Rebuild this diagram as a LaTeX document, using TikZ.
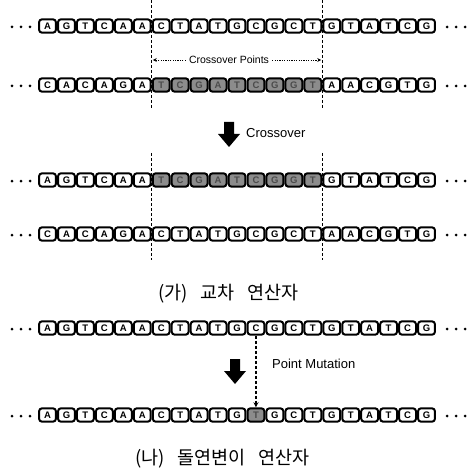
\documentclass[tikz,border=0pt]{standalone}
\usepackage{fontspec}
\setmainfont{Liberation Sans}
\newfontfamily\krfont{Noto Sans CJK KR}
\usetikzlibrary{arrows.meta}
\tikzset{
  base/.style={draw=black, line width=2pt, rounded corners=3pt, minimum width=16.9pt, minimum height=13.4pt, inner sep=0pt, font=\bfseries\fontsize{9.5}{9.5}\selectfont, fill=white},
  shd/.style={base, fill=black!45, text=black!70},
  seqdot/.style={circle, fill=black, inner sep=0pt, minimum size=3pt},
  cutline/.style={line width=1.2pt, dash pattern=on 3pt off 2pt},
  lbl/.style={font=\fontsize{13}{13}\selectfont, anchor=west, inner sep=0pt},
  smalllbl/.style={font=\fontsize{10.5}{10.5}\selectfont, inner sep=0pt},
  captxt/.style={font=\krfont\fontsize{18.5}{18.5}\selectfont, anchor=west, inner sep=0pt},
  pointer/.style={line width=0.8pt, dash pattern=on 1.2pt off 1.2pt, -{Stealth[length=4pt,width=4pt]}},
  mutline/.style={line width=1.2pt, dash pattern=on 3pt off 2pt, -{Stealth[length=5pt,width=5pt]}}
}
\newcommand\dnarow[3]{%
  \foreach [count=\k from 0] \ch/\st in {#3} {
    \node[\st] (#2\k) at ({47.5+18.95*\k},#1) {\ch};
  }
  \foreach \dx [count=\j] in {12,21,30} {\node[seqdot] (#2L\j) at (\dx,#1+1) {};}
  \foreach \dx [count=\j] in {447,456,465} {\node[seqdot] (#2R\j) at (\dx,#1+1) {};}
}
\begin{document}
\begin{tikzpicture}[x=1pt,y=-1pt]
\useasboundingbox (0,0) rectangle (469,473);
% crossover cut lines (drawn first, boxes on top)
\coordinate (ta) at (151.7,0);   \coordinate (ma) at (151.7,108);
\coordinate (na) at (151.7,153); \coordinate (ba) at (151.7,260);
\coordinate (tb) at (322.3,0);   \coordinate (mb) at (322.3,108);
\coordinate (nb) at (322.3,153); \coordinate (bb) at (322.3,260);
\draw[cutline] (ta) -- (ma);
\draw[cutline] (na) -- (ba);
\draw[cutline] (tb) -- (mb);
\draw[cutline] (nb) -- (bb);
% rows
\dnarow{26}{a}{A/base,G/base,T/base,C/base,A/base,A/base,C/base,T/base,A/base,T/base,G/base,C/base,G/base,C/base,T/base,G/base,T/base,A/base,T/base,C/base,G/base}
\dnarow{85}{b}{C/base,A/base,C/base,A/base,G/base,A/base,T/shd,C/shd,G/shd,A/shd,T/shd,C/shd,G/shd,G/shd,T/shd,A/base,A/base,C/base,G/base,T/base,G/base}
\dnarow{180}{c}{A/base,G/base,T/base,C/base,A/base,A/base,T/shd,C/shd,G/shd,A/shd,T/shd,C/shd,G/shd,G/shd,T/shd,G/base,T/base,A/base,T/base,C/base,G/base}
\dnarow{234}{d}{C/base,A/base,C/base,A/base,G/base,A/base,C/base,T/base,A/base,T/base,G/base,C/base,G/base,C/base,T/base,A/base,A/base,C/base,G/base,T/base,G/base}
\dnarow{328}{e}{A/base,G/base,T/base,C/base,A/base,A/base,C/base,T/base,A/base,T/base,G/base,C/base,G/base,C/base,T/base,G/base,T/base,A/base,T/base,C/base,G/base}
\dnarow{415}{f}{A/base,G/base,T/base,C/base,A/base,A/base,C/base,T/base,A/base,T/base,G/base,T/shd,G/base,C/base,T/base,G/base,T/base,A/base,T/base,C/base,G/base}
% crossover points label
\node[smalllbl] (cp) at (229,60) {Crossover Points};
\coordinate (pa) at (152.8,60);
\coordinate (pb) at (321.2,60);
\draw[pointer] ([xshift=-3pt]cp.west) -- (pa);
\draw[pointer] ([xshift=3pt]cp.east) -- (pb);
% crossover arrow
\fill (224,122) -- (234,122) -- (234,134) -- (240,134) -- (229,147) -- (218,134) -- (224,134) -- cycle;
\node[lbl] (xo) at (246,133) {Crossover};
% caption 1
\node[captxt] (cap1) at (158,294) {(가)\hspace{13pt}교차\hspace{13pt}연산자};
% mutation
\draw[mutline] (e11.south) -- (f11.north);
\fill (230,359) -- (240,359) -- (240,371) -- (246,371) -- (235,384) -- (224,371) -- (230,371) -- cycle;
\node[lbl] (pm) at (272,364) {Point Mutation};
% caption 2
\node[captxt] (cap2) at (135,459) {(나)\hspace{13pt}돌연변이\hspace{13pt}연산자};
\end{tikzpicture}
\end{document}
